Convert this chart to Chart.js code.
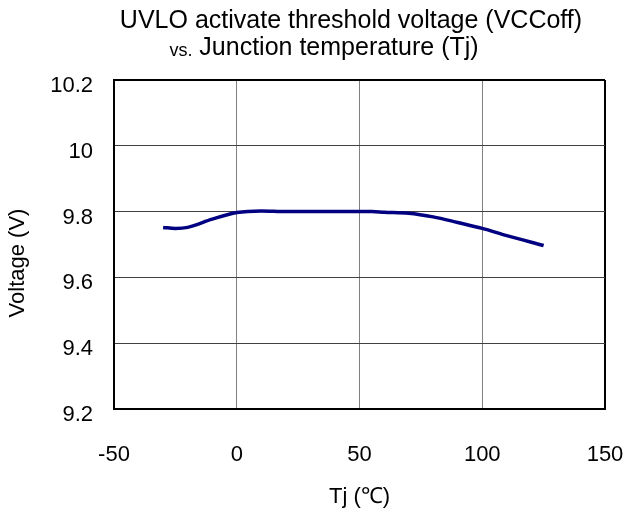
<!DOCTYPE html>
<html>
<head>
<meta charset="utf-8">
<script src="https://cdn.jsdelivr.net/npm/chart.js@4"></script>
<style>
  html, body { margin: 0; padding: 0; background: #fff; }
  #wrap { width: 627px; height: 510px; }
</style>
</head>
<body>
<div id="wrap"><canvas id="chart" width="627" height="510"></canvas></div>
<script>
// Junction temperature (°C) and UVLO off threshold (V)
const tempC = [-30, -25, -20, -10, 0, 10, 20, 30, 40, 50, 55, 60, 70, 80, 90, 100, 110, 125];
const vccOff = [9.752, 9.749, 9.752, 9.777, 9.797, 9.802, 9.800, 9.800, 9.800, 9.800, 9.800, 9.798, 9.795, 9.784, 9.767, 9.749, 9.727, 9.697];

const xTicks = [-50, 0, 50, 100, 150];
const yTicks = [9.2, 9.4, 9.6, 9.8, 10, 10.2];

const titleLine1 = 'UVLO activate threshold voltage (VCCoff)';
const titleVs = 'vs.';
const titleLine2 = ' Junction temperature (Tj)';
const xTitle = 'Tj (\u2103)';
const yTitle = 'Voltage (V)';

const FONT = '"Liberation Sans", Arial, sans-serif';

// Titles drawn by hand so the odd two-line layout can be matched
const textPlugin = {
    id: 'texts',
    afterDraw(chart) {
        const ctx = chart.ctx;
        const area = chart.chartArea;
        ctx.save();
        ctx.fillStyle = '#000';
        ctx.textBaseline = 'middle';

        ctx.font = '25px ' + FONT;
        ctx.textAlign = 'center';
        ctx.fillText(titleLine1, 351, 21);

        // second line: small "vs." followed by normal-size text
        ctx.font = '18px ' + FONT;
        const vsW = ctx.measureText(titleVs).width;
        ctx.font = '25px ' + FONT;
        const l2W = ctx.measureText(titleLine2).width;
        const x = 324 - (vsW + l2W) / 2;
        ctx.textAlign = 'left';
        ctx.font = '18px ' + FONT;
        ctx.fillText(titleVs, x, 51);
        ctx.font = '25px ' + FONT;
        ctx.fillText(titleLine2, x + vsW, 48);

        ctx.font = '22px ' + FONT;
        ctx.textAlign = 'center';
        ctx.fillText(xTitle, (area.left + area.right) / 2, 497);

        ctx.translate(18, 263);
        ctx.rotate(-Math.PI / 2);
        ctx.fillText(yTitle, 0, 0);
        ctx.restore();
    }
};

new Chart(document.getElementById('chart').getContext('2d'), {
    type: 'line',
    data: {
        datasets: [{
            data: tempC.map((t, i) => ({ x: t, y: vccOff[i] })),
            borderColor: '#000080',
            borderWidth: 3.5,
            pointRadius: 0,
            fill: false,
            cubicInterpolationMode: 'monotone'
        }]
    },
    options: {
        responsive: false,
        animation: false,
        layout: { padding: { top: 80, right: 22, left: 0, bottom: 0 } },
        plugins: {
            legend: { display: false },
            tooltip: { enabled: false }
        },
        scales: {
            x: {
                type: 'linear',
                min: -50,
                max: 150,
                afterBuildTicks: scale => { scale.ticks = xTicks.map(v => ({ value: v })); },
                afterFit: scale => {
                    scale.height = 101;
                    scale.paddingLeft = 0;
                    scale.paddingRight = 0;
                },
                grid: {
                    color: c => c.tick && c.tick.value === 150 ? '#000' : '#808080',
                    lineWidth: c => c.tick && c.tick.value === 150 ? 2 : 1,
                    drawTicks: false
                },
                border: { color: '#000', width: 2 },
                ticks: {
                    color: '#000',
                    font: { family: FONT, size: 22 },
                    padding: 33,
                    maxRotation: 0,
                    callback: v => String(v)
                }
            },
            y: {
                min: 9.2,
                max: 10.2,
                afterBuildTicks: scale => { scale.ticks = yTicks.map(v => ({ value: v })); },
                afterFit: scale => {
                    scale.width = 114;
                    scale.paddingTop = 0;
                    scale.paddingBottom = 0;
                },
                grid: {
                    color: c => c.tick && c.tick.value === 10.2 ? '#000' : '#404040',
                    lineWidth: c => c.tick && c.tick.value === 10.2 ? 2 : 1,
                    drawTicks: false
                },
                border: { color: '#000', width: 2 },
                ticks: {
                    color: '#000',
                    font: { family: FONT, size: 22 },
                    padding: 21,
                    labelOffset: 6,
                    callback: v => String(v)
                }
            }
        }
    },
    plugins: [textPlugin]
});
</script>
</body>
</html>
